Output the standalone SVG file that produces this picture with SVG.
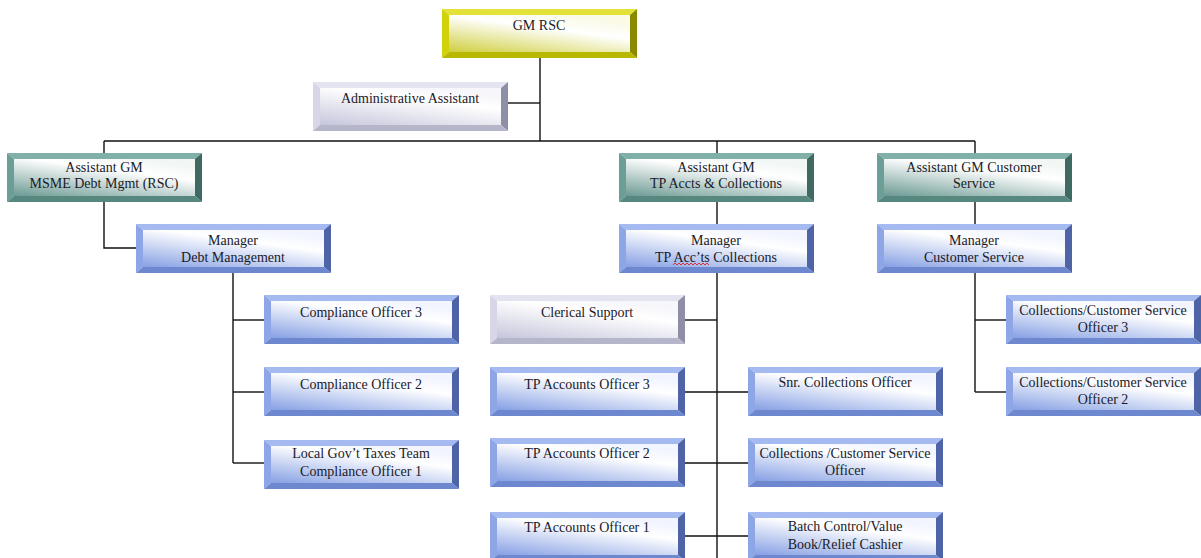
<svg xmlns="http://www.w3.org/2000/svg" xmlns:xlink="http://www.w3.org/1999/xlink" width="1201" height="558" viewBox="0 0 1201 558">
  <style>
    .conn { fill: none; stroke: #111; stroke-width: 1.4; }
    .lbl { font-family: "Liberation Serif", "Times New Roman", serif; font-size: 14px; fill: #1a1a28; text-anchor: middle; }
    .squiggle { fill: none; stroke: #e02020; stroke-width: 0.9; }
  </style>
  <defs>
    <!-- face gradients: coloured lower-left fading to white upper-right -->
    <linearGradient id="faceBlue" x1="0" y1="1" x2="0.65" y2="0">
      <stop offset="0" stop-color="#86a0e4"/>
      <stop offset="0.75" stop-color="#ffffff"/>
      <stop offset="1" stop-color="#f2f5ff"/>
    </linearGradient>
    <linearGradient id="faceTeal" x1="0" y1="1" x2="0.65" y2="0">
      <stop offset="0" stop-color="#6c9a93"/>
      <stop offset="0.75" stop-color="#ffffff"/>
      <stop offset="1" stop-color="#f2f7f6"/>
    </linearGradient>
    <linearGradient id="faceYellow" x1="0" y1="1" x2="0.65" y2="0">
      <stop offset="0" stop-color="#cfcf40"/>
      <stop offset="0.7" stop-color="#ffffff"/>
      <stop offset="1" stop-color="#fafae6"/>
    </linearGradient>
    <linearGradient id="faceLav" x1="0" y1="1" x2="0.65" y2="0">
      <stop offset="0" stop-color="#c6c6dc"/>
      <stop offset="0.75" stop-color="#ffffff"/>
      <stop offset="1" stop-color="#f6f6fb"/>
    </linearGradient>

    <!-- bevelled box 195 x 49 -->
    <g id="boxBlue">
      <polygon points="0,0 195,0 188,6 7,6" fill="#a4baf0"/>
      <polygon points="0,0 7,6 7,43 0,49" fill="#8ea6e6"/>
      <polygon points="195,0 195,49 188,43 188,6" fill="#4e64a6"/>
      <polygon points="0,49 7,43 188,43 195,49" fill="#6e88d0"/>
      <rect x="7" y="6" width="181" height="37" fill="url(#faceBlue)"/>
    </g>
    <g id="boxTeal">
      <polygon points="0,0 195,0 188,6 7,6" fill="#80b0a8"/>
      <polygon points="0,0 7,6 7,43 0,49" fill="#6a9e96"/>
      <polygon points="195,0 195,49 188,43 188,6" fill="#3e6a63"/>
      <polygon points="0,49 7,43 188,43 195,49" fill="#578880"/>
      <rect x="7" y="6" width="181" height="37" fill="url(#faceTeal)"/>
    </g>
    <g id="boxYellow">
      <polygon points="0,0 195,0 188,6 7,6" fill="#e2e238"/>
      <polygon points="0,0 7,6 7,43 0,49" fill="#d2d20a"/>
      <polygon points="195,0 195,49 188,43 188,6" fill="#8a8a00"/>
      <polygon points="0,49 7,43 188,43 195,49" fill="#b8b800"/>
      <rect x="7" y="6" width="181" height="37" fill="url(#faceYellow)"/>
    </g>
    <g id="boxLav">
      <polygon points="0,0 195,0 188,6 7,6" fill="#e4e4f0"/>
      <polygon points="0,0 7,6 7,43 0,49" fill="#d6d6e6"/>
      <polygon points="195,0 195,49 188,43 188,6" fill="#8e8ea6"/>
      <polygon points="0,49 7,43 188,43 195,49" fill="#b6b6ca"/>
      <rect x="7" y="6" width="181" height="37" fill="url(#faceLav)"/>
    </g>
  </defs>

  <rect width="1201" height="558" fill="#ffffff"/>

  <!-- connectors -->
  <g id="connectors">
    <path class="conn" d="M540 57 V141"/>
    <path class="conn" d="M508 103 H540"/>
    <path class="conn" d="M104 141 H975"/>
    <path class="conn" d="M104 141 V153"/>
    <path class="conn" d="M717 141 V153"/>
    <path class="conn" d="M975 141 V153"/>
    <path class="conn" d="M104 202 V248 H136"/>
    <path class="conn" d="M717 202 V224"/>
    <path class="conn" d="M975 202 V224"/>
    <path class="conn" d="M233 273 V463"/>
    <path class="conn" d="M233 320 H264"/>
    <path class="conn" d="M233 392 H264"/>
    <path class="conn" d="M233 463 H264"/>
    <path class="conn" d="M717 273 V558"/>
    <path class="conn" d="M685 320 H717"/>
    <path class="conn" d="M685 392 H748"/>
    <path class="conn" d="M685 463 H748"/>
    <path class="conn" d="M685 536 H748"/>
    <path class="conn" d="M975 273 V392"/>
    <path class="conn" d="M975 320 H1006"/>
    <path class="conn" d="M975 392 H1006"/>
  </g>

  <!-- nodes -->
  <g id="gm-rsc" transform="translate(442,9)">
    <use xlink:href="#boxYellow"/>
    <text class="lbl" x="97" y="21">GM RSC</text>
  </g>
  <g id="admin-assistant" transform="translate(313,82)">
    <use xlink:href="#boxLav"/>
    <text class="lbl" x="97" y="21">Administrative  Assistant</text>
  </g>

  <g id="agm-msme" transform="translate(7,153)">
    <use xlink:href="#boxTeal"/>
    <text class="lbl" x="97" y="19">Assistant GM</text>
    <text class="lbl" x="97" y="35">MSME Debt Mgmt (RSC)</text>
  </g>
  <g id="agm-tp" transform="translate(619,153)">
    <use xlink:href="#boxTeal"/>
    <text class="lbl" x="97" y="19">Assistant GM</text>
    <text class="lbl" x="97" y="35">TP Accts &amp; Collections</text>
  </g>
  <g id="agm-cs" transform="translate(877,153)">
    <use xlink:href="#boxTeal"/>
    <text class="lbl" x="97" y="19">Assistant GM Customer</text>
    <text class="lbl" x="97" y="35">Service</text>
  </g>

  <g id="mgr-debt" transform="translate(136,224)">
    <use xlink:href="#boxBlue"/>
    <text class="lbl" x="97" y="21">Manager</text>
    <text class="lbl" x="97" y="38">Debt Management</text>
  </g>
  <g id="mgr-tp" transform="translate(619,224)">
    <use xlink:href="#boxBlue"/>
    <text class="lbl" x="97" y="21">Manager</text>
    <text class="lbl" x="97" y="38">TP Acc’ts Collections</text>
    <path class="squiggle" d="M54 41 l2 -2 l2 2 l2 -2 l2 2 l2 -2 l2 2 l2 -2 l2 2 l2 -2 l2 2 l2 -2 l2 2 l2 -2 l2 2 l2 -2 l2 2 l2 -2 l2 2"/>
  </g>
  <g id="mgr-cs" transform="translate(877,224)">
    <use xlink:href="#boxBlue"/>
    <text class="lbl" x="97" y="21">Manager</text>
    <text class="lbl" x="97" y="38">Customer Service</text>
  </g>

  <g id="compliance-3" transform="translate(264,295)">
    <use xlink:href="#boxBlue"/>
    <text class="lbl" x="97" y="22">Compliance  Officer 3</text>
  </g>
  <g id="compliance-2" transform="translate(264,367)">
    <use xlink:href="#boxBlue"/>
    <text class="lbl" x="97" y="22">Compliance  Officer 2</text>
  </g>
  <g id="compliance-1" transform="translate(264,440)">
    <use xlink:href="#boxBlue"/>
    <text class="lbl" x="97" y="18">Local Gov’t Taxes Team</text>
    <text class="lbl" x="97" y="36">Compliance  Officer 1</text>
  </g>

  <g id="clerical-support" transform="translate(490,295)">
    <use xlink:href="#boxLav"/>
    <text class="lbl" x="97" y="22">Clerical  Support</text>
  </g>
  <g id="tp-officer-3" transform="translate(490,367)">
    <use xlink:href="#boxBlue"/>
    <text class="lbl" x="97" y="22">TP Accounts Officer 3</text>
  </g>
  <g id="tp-officer-2" transform="translate(490,438)">
    <use xlink:href="#boxBlue"/>
    <text class="lbl" x="97" y="20">TP Accounts Officer 2</text>
  </g>
  <g id="tp-officer-1" transform="translate(490,512)">
    <use xlink:href="#boxBlue"/>
    <text class="lbl" x="97" y="20">TP Accounts Officer 1</text>
  </g>

  <g id="snr-collections" transform="translate(748,367)">
    <use xlink:href="#boxBlue"/>
    <text class="lbl" x="97" y="20">Snr. Collections Officer</text>
  </g>
  <g id="collections-cs-officer" transform="translate(748,438)">
    <use xlink:href="#boxBlue"/>
    <text class="lbl" x="97" y="20">Collections /Customer Service</text>
    <text class="lbl" x="97" y="37">Officer</text>
  </g>
  <g id="batch-control" transform="translate(748,512)">
    <use xlink:href="#boxBlue"/>
    <text class="lbl" x="97" y="19">Batch Control/Value</text>
    <text class="lbl" x="97" y="37">Book/Relief Cashier</text>
  </g>

  <g id="ccs-officer-3" transform="translate(1006,295)">
    <use xlink:href="#boxBlue"/>
    <text class="lbl" x="97" y="20">Collections/Customer  Service</text>
    <text class="lbl" x="97" y="37">Officer 3</text>
  </g>
  <g id="ccs-officer-2" transform="translate(1006,367)">
    <use xlink:href="#boxBlue"/>
    <text class="lbl" x="97" y="20">Collections/Customer  Service</text>
    <text class="lbl" x="97" y="37">Officer 2</text>
  </g>
</svg>
